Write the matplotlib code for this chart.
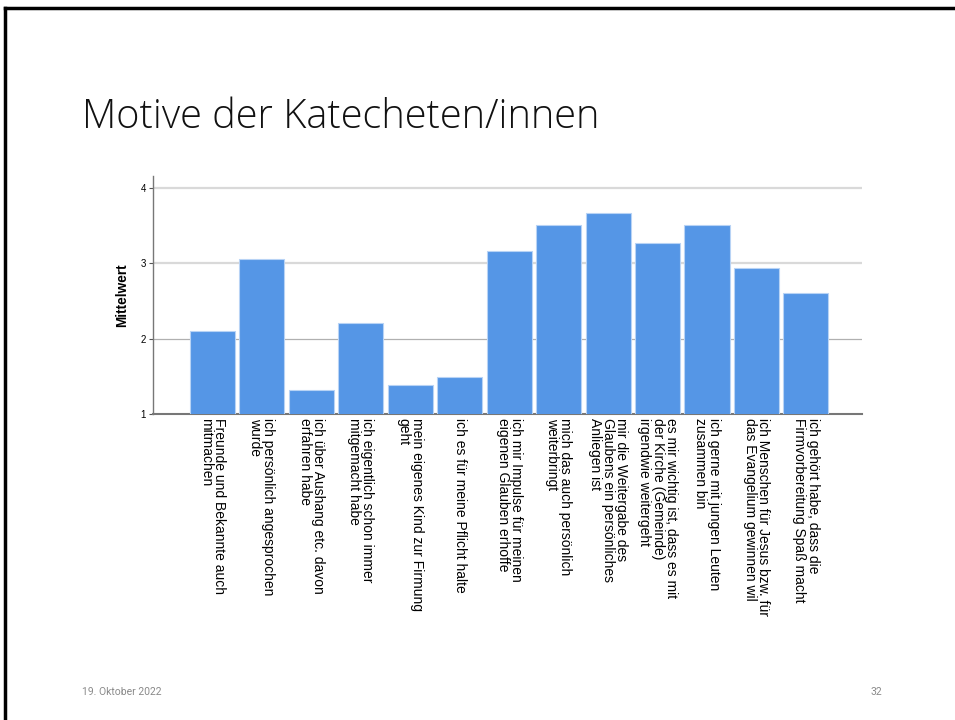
import matplotlib.pyplot as plt
import numpy as np
from matplotlib.lines import Line2D

plt.rcParams["font.family"] = ["Liberation Sans", "DejaVu Sans"]

# Mittelwerte je Motiv
labels = [
    "Freunde und Bekannte auch\nmitmachen",
    "ich persönlich angesprochen\nwurde",
    "ich über Aushang etc. davon\nerfahren habe",
    "ich eigentlich schon immer\nmitgemacht habe",
    "mein eigenes Kind zur Firmung\ngeht",
    "ich es für meine Pflicht halte",
    "ich mir Impulse für meinen\neigenen Glauben erhoffe",
    "mich das auch persönlich\nweiterbringt",
    "mir die Weitergabe des\nGlaubens ein persönliches\nAnliegen ist",
    "es mir wichtig ist, dass es mit\nder Kirche (Gemeinde)\nirgendwie weitergeht",
    "ich gerne mit jungen Leuten\nzusammen bin",
    "ich Menschen für Jesus bzw. für\ndas Evangelium gewinnen wil",
    "ich gehört habe, dass die\nFirmvorbereitung Spaß macht",
]
means = [2.10, 3.05, 1.32, 2.21, 1.38, 1.49, 3.16, 3.50, 3.67, 3.27, 3.50, 2.94, 2.61]
yticks = [1, 2, 3, 4]

fig = plt.figure(figsize=(9.55, 7.2), dpi=100)

# slide frame (top and left edge)
fig.add_artist(Line2D([0.005, 1.0], [0.9895, 0.9895], color="black", lw=2.5))
fig.add_artist(Line2D([0.005, 0.005], [0.0, 0.9895], color="black", lw=2.5))

fig.text(0.086, 0.837, "Motive der Katecheten/innen", fontsize=28.6,
         family=["Open Sans", "DejaVu Sans"], fontweight="light",
         ha="left", va="center", color="#111111")
fig.text(0.086, 0.039, "19. Oktober 2022", fontsize=7.5, color="#8a8a8a",
         ha="left", va="center", family=["Roboto", "DejaVu Sans"])
fig.text(0.924, 0.039, "32", fontsize=7.5, color="#8a8a8a",
         ha="right", va="center", family=["Roboto", "DejaVu Sans"])

ax = fig.add_axes([0.160, 0.425, 0.743, 0.331])
x = np.arange(len(labels))
ax.bar(x, means, width=0.91, bottom=0, color="#5596E6",
       edgecolor="#b8d3f5", linewidth=0.8, zorder=3)

ax.set_xlim(-1.2, 13.14)
ax.set_ylim(1, 4.16)
ax.set_yticks(yticks)
ax.set_yticklabels([str(t) for t in yticks], fontsize=7)
ax.tick_params(axis="y", length=3, width=0.8, color="#555555", pad=2)
ax.tick_params(axis="x", length=0, pad=3)
ax.set_xticks(x)
ax.set_xticklabels(labels, rotation=-90, fontsize=10, ha="center", va="top",
                   rotation_mode="default", linespacing=0.92)
for lbl in ax.get_xticklabels():
    lbl.set_multialignment("left")

ax.set_ylabel("Mittelwert", fontsize=9.8, fontweight="bold", labelpad=8)

for y in [3, 4]:
    ax.axhline(y, color="#d9d9d9", lw=1.6, zorder=1)
ax.axhline(2, color="#b0b0b0", lw=0.9, zorder=1)

for side in ["top", "right"]:
    ax.spines[side].set_visible(False)
ax.spines["left"].set_color("#777777")
ax.spines["bottom"].set_color("#777777")
ax.spines["left"].set_linewidth(1.0)
ax.spines["bottom"].set_linewidth(1.5)

plt.savefig("out.png", dpi=100)
